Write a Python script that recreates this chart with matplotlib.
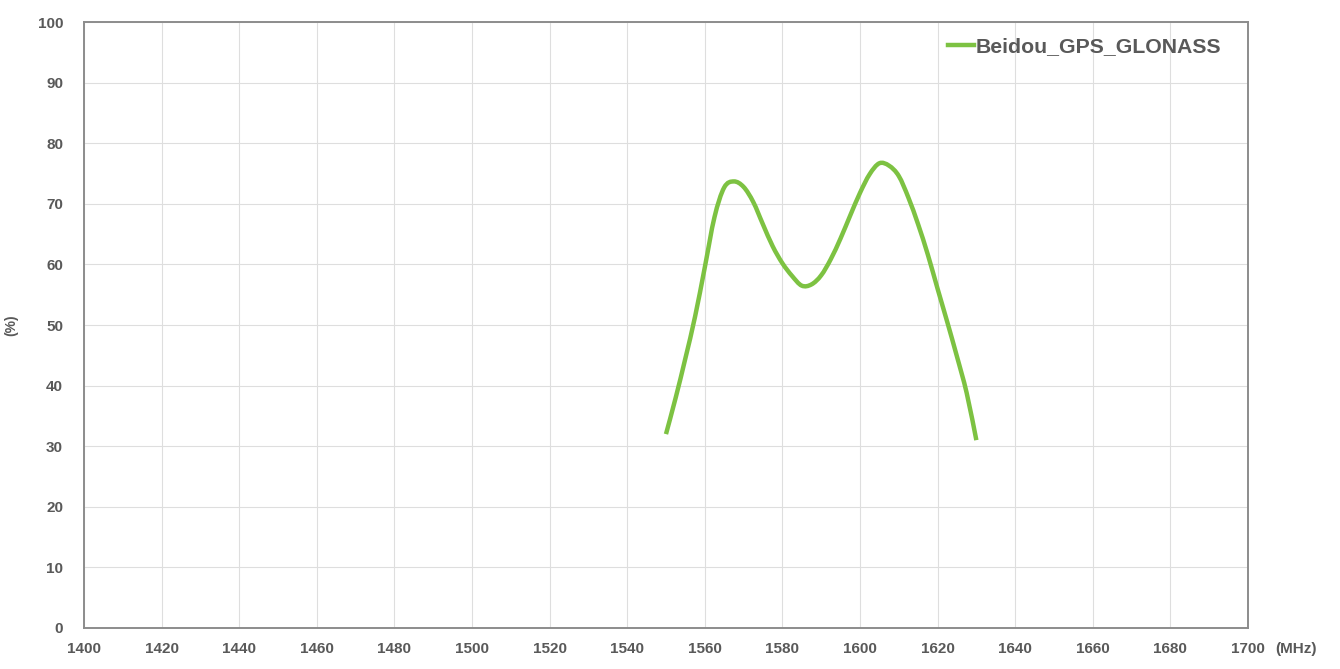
import matplotlib.pyplot as plt
from matplotlib.path import Path
from matplotlib.patches import PathPatch
from matplotlib.lines import Line2D

# frequency (MHz) and efficiency (%)
freq = [1550, 1552.5, 1555, 1557.5, 1560, 1562.5, 1565, 1567.5, 1570, 1572.5,
        1575, 1577.5, 1580, 1582.5, 1585, 1587.5, 1590, 1592.5, 1595, 1597.5,
        1600, 1602.5, 1605, 1607.5, 1610, 1612.5, 1615, 1617.5, 1620, 1622.5,
        1625, 1627.5, 1630]
eff = [32.0, 38.0, 44.5, 51.4, 59.5, 67.8, 72.7, 73.7, 72.8, 70.3,
       66.6, 63.0, 60.2, 58.1, 56.5, 56.7, 58.2, 60.9, 64.3, 68.1,
       71.8, 74.9, 76.7, 76.3, 74.6, 71.0, 66.6, 61.6, 56.0, 50.5,
       44.8, 38.8, 31.0]
series_name = "Beidou_GPS_GLONASS"
xticks = list(range(1400, 1701, 20))
yticks = list(range(0, 101, 10))

txt = "#595959"
green = "#7dc242"
plt.rcParams["font.family"] = ["Liberation Sans", "DejaVu Sans"]

fig = plt.figure(figsize=(13.4, 6.69), dpi=100)
ax = fig.add_axes([0.0627, 0.0613, 0.8686, 0.9057])


def smooth_path(xs, ys):
    # Excel-style smoothed line: cubic Bezier through each point (Catmull-Rom)
    pts = list(zip(xs, ys))
    verts = [pts[0]]
    codes = [Path.MOVETO]
    n = len(pts)
    for i in range(n - 1):
        p0 = pts[i - 1] if i > 0 else pts[i]
        p1 = pts[i]
        p2 = pts[i + 1]
        p3 = pts[i + 2] if i + 2 < n else pts[i + 1]
        c1 = (p1[0] + (p2[0] - p0[0]) / 6, p1[1] + (p2[1] - p0[1]) / 6)
        c2 = (p2[0] - (p3[0] - p1[0]) / 6, p2[1] - (p3[1] - p1[1]) / 6)
        verts += [c1, c2, p2]
        codes += [Path.CURVE4] * 3
    return Path(verts, codes)


ax.add_patch(PathPatch(smooth_path(freq, eff), facecolor="none",
                       edgecolor=green, lw=3.2, capstyle="butt",
                       joinstyle="round"))

ax.set_xlim(1400, 1700)
ax.set_ylim(0, 100)
ax.set_xticks(xticks)
ax.set_yticks(yticks)
ax.grid(True, color="#dedede", lw=0.8)
ax.set_axisbelow(True)
ax.tick_params(axis="x", length=0, pad=10, labelsize=11, labelcolor=txt)
ax.tick_params(axis="y", length=0, pad=15, labelsize=11, labelcolor=txt)
for lab in ax.get_xticklabels() + ax.get_yticklabels():
    lab.set_fontweight("bold")
for s in ax.spines.values():
    s.set_color("#8c8c8c")
    s.set_linewidth(1.4)

ax.annotate("(MHz)", xy=(1700, 0), xytext=(20, -10), textcoords="offset points",
            ha="left", va="top", fontsize=11, fontweight="bold", color=txt,
            annotation_clip=False)
ax.set_ylabel("(%)", fontsize=10, fontweight="bold", color=txt, labelpad=14)

handle = Line2D([], [], color=green, lw=3.2)
leg = ax.legend([handle], [series_name], loc="upper right", frameon=False,
                bbox_to_anchor=(0.99, 1.0), handlelength=1.2,
                handletextpad=0.1, borderaxespad=0.3,
                prop={"size": 15.3, "weight": "bold"})
for t in leg.get_texts():
    t.set_color(txt)

fig.savefig("out.png", dpi=100)
